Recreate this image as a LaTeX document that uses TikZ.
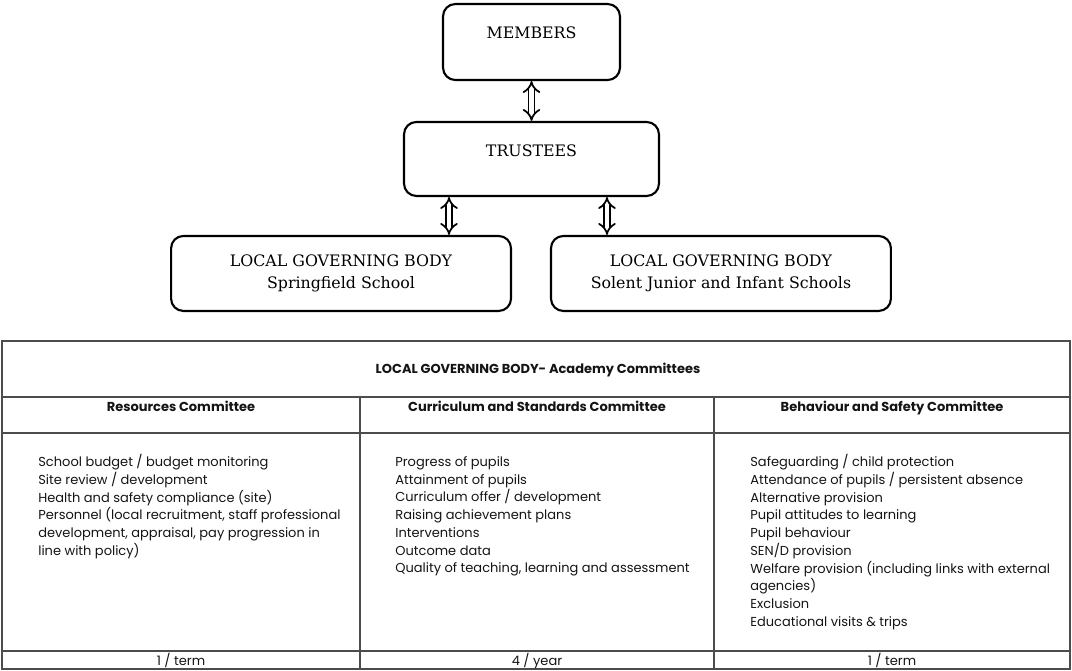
\documentclass[tikz,border=0pt]{standalone}
\usepackage{fontspec}
\usepackage{tikz}
\usetikzlibrary{shapes.geometric, arrows, arrows.meta, positioning}
\newfontfamily\boxfont{DejaVu Serif}
\newfontfamily\tabfont{Poppins}

\begin{document}
\begin{tikzpicture}[x=0.02cm, y=-0.02cm, node distance=2.34cm, on grid,
    block/.style={rectangle, draw, very thick, rounded corners=7pt, font=\boxfont\fontsize{9}{12.5}\selectfont, text centered, inner ysep=0pt},
    link/.style={line width=1pt, double, double distance=2.4pt, {Implies}-{Implies}},
    rule/.style={draw=black!70, line width=0.8pt},
    cell/.style={font=\tabfont\fontsize{7.4}{10.1}\selectfont, text=black!92, inner sep=0pt},
    list/.style={cell, anchor=north west, align=left},
    head/.style={cell, anchor=base, font=\tabfont\bfseries\fontsize{7.4}{10.1}\selectfont}]
    \useasboundingbox (0,0) rectangle (1072,670);

    % organisation chart
    \node [block, minimum width=3.54cm, minimum height=1.52cm, text height=0.69cm, text depth=0.83cm] (members) at (531.5,42) {MEMBERS};
    \node [block, below=of members, minimum width=5.1cm, minimum height=1.48cm, text height=0.69cm, text depth=0.79cm] (trustees) {TRUSTEES};
    \node [block, below=2.29cm of trustees, xshift=-3.81cm, minimum width=6.8cm, minimum height=1.5cm, align=center] (lgbA) {LOCAL GOVERNING BODY\\Springfield School};
    \node [block, below=2.29cm of trustees, xshift=3.79cm, minimum width=6.8cm, minimum height=1.5cm, align=center] (lgbB) {LOCAL GOVERNING BODY\\Solent Junior and Infant Schools};

    \draw [link] (members.south) -- (trustees.north);
    \draw [link] ([xshift=-1.65cm]trustees.south) -- ([xshift=-1.65cm]trustees.south |- lgbA.north);
    \draw [link] ([xshift=1.51cm]trustees.south) -- ([xshift=1.51cm]trustees.south |- lgbB.north);

    % committees table
    \draw [rule] (2,341) rectangle (1070,669);
    \draw [rule] (2,397) -- (1070,397);
    \draw [rule] (2,433) -- (1070,433);
    \draw [rule] (2,651) -- (1070,651);
    \draw [rule] (360,397) -- (360,669);
    \draw [rule] (714,397) -- (714,669);

    \node [head] (title) at (538,373) {LOCAL GOVERNING BODY- Academy Committees};
    \node [head] (res) at (181,411) {Resources Committee};
    \node [head] (cur) at (537,411) {Curriculum and Standards Committee};
    \node [head] (beh) at (892,411) {Behaviour and Safety Committee};

    \node [list] (resList) at (38,454) {School budget / budget monitoring\\Site review / development\\Health and safety compliance (site)\\Personnel (local recruitment, staff professional\\development, appraisal, pay progression in\\line with policy)};
    \node [list] (curList) at (395,456) {Progress of pupils\\Attainment of pupils\\Curriculum offer / development\\Raising achievement plans\\Interventions\\Outcome data\\Quality of teaching, learning and assessment};
    \node [list] (behList) at (750,454) {Safeguarding / child protection\\Attendance of pupils / persistent absence\\Alternative provision\\Pupil attitudes to learning\\Pupil behaviour\\SEN/D provision\\Welfare provision (including links with external\\agencies)\\Exclusion\\Educational visits \& trips};

    \node [cell, anchor=base] (resFreq) at (181,665) {1 / term};
    \node [cell, anchor=base] (curFreq) at (537,665) {4 / year};
    \node [cell, anchor=base] (behFreq) at (892,665) {1 / term};
\end{tikzpicture}
\end{document}
